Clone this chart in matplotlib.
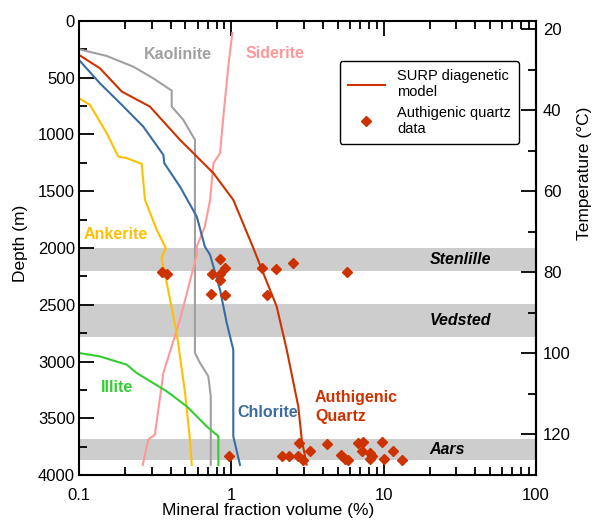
import matplotlib
matplotlib.use('agg')
import matplotlib.pyplot as plt
from matplotlib.lines import Line2D

plt.rcParams['font.family'] = ['Liberation Sans', 'DejaVu Sans']

# --- data (x = mineral fraction %, depth in m) ---
kaolinite_x = [0.1, 0.152, 0.227, 0.307, 0.406, 0.406, 0.484, 0.577, 0.577, 0.623, 0.706, 0.733, 0.733]
kaolinite_d = [249, 308, 402, 505, 613, 754, 871, 1047, 2925, 3013, 3131, 3307, 3908]

siderite_x = [1.015, 0.955, 0.886, 0.843, 0.763, 0.725, 0.67, 0.593, 0.593, 0.46, 0.358, 0.315, 0.285, 0.262]
siderite_d = [106, 402, 842, 1165, 1253, 1576, 1811, 1987, 2060, 2632, 3101, 3644, 3688, 3911]

surp_x = [0.1, 0.137, 0.191, 0.292, 0.46, 0.593, 0.763, 1.03, 1.395, 1.62, 1.984, 2.31, 2.75, 2.9, 3.12]
surp_d = [299, 416, 622, 754, 1047, 1194, 1341, 1576, 2001, 2221, 2515, 2896, 3395, 3688, 3908]

chlorite_x = [0.1, 0.137, 0.191, 0.264, 0.358, 0.363, 0.46, 0.593, 0.67, 0.725, 0.843, 0.933, 1.03, 1.03, 1.14]
chlorite_d = [343, 548, 739, 930, 1180, 1253, 1459, 1723, 1987, 2060, 2368, 2661, 2896, 3659, 3911]

ankerite_x = [0.1, 0.118, 0.152, 0.181, 0.206, 0.258, 0.271, 0.324, 0.371, 0.348, 0.377, 0.438, 0.497, 0.535, 0.55]
ankerite_d = [680, 739, 989, 1194, 1209, 1259, 1576, 1840, 2001, 2089, 2309, 2750, 3277, 3688, 3911]

illite_x = [0.1, 0.137, 0.206, 0.239, 0.377, 0.51, 0.688, 0.822, 0.822]
illite_d = [2925, 2955, 3028, 3101, 3263, 3395, 3571, 3659, 3911]

quartz_x = [0.352, 0.377, 0.843, 0.752, 0.843, 0.909, 0.843, 0.733, 0.909, 1.58, 1.97, 2.55, 1.71, 5.72,
            0.97, 2.14, 2.38, 2.78, 2.75, 2.94, 3.29, 4.23, 5.25, 5.58, 5.86, 6.82, 7.28, 7.17, 8.15,
            8.15, 8.39, 9.8, 10.0, 11.6, 13.1]
quartz_d = [2210, 2225, 2095, 2225, 2225, 2175, 2280, 2405, 2410, 2175, 2185, 2135, 2410, 2210,
            3830, 3830, 3830, 3720, 3830, 3865, 3785, 3725, 3820, 3855, 3865, 3715, 3710, 3785, 3810,
            3860, 3835, 3710, 3860, 3785, 3865]

formations = ['Stenlille', 'Vedsted', 'Aars']
band_top = [2000, 2490, 3680]
band_base = [2200, 2780, 3865]

red = '#cc3300'

fig = plt.figure(figsize=(5.97, 5.24), dpi=100)
ax = fig.add_axes([79/597, 1-475/524, 457/597, 454/524])

for top, base, name in zip(band_top, band_base, formations):
    ax.axhspan(top, base, color='#cdcdcd', lw=0, zorder=0)
    ax.text(20, (top+base)/2, name, fontsize=11.5, fontweight='bold', style='italic',
            va='center', ha='left', zorder=3)

lw = 1.5
ax.plot(kaolinite_x, kaolinite_d, color='#a0a0a0', lw=lw, zorder=2)
ax.plot(siderite_x, siderite_d, color='#ff9999', lw=lw, zorder=2)
ax.plot(ankerite_x, ankerite_d, color='#ffc000', lw=lw, zorder=2)
ax.plot(illite_x, illite_d, color='#33cc33', lw=lw, zorder=2)
ax.plot(chlorite_x, chlorite_d, color='#3a6ca4', lw=lw, zorder=2)
ax.plot(surp_x, surp_d, color=red, lw=lw, zorder=2)
ax.plot(quartz_x, quartz_d, ls='none', marker='D', ms=5, color=red, zorder=4)

lab = dict(fontsize=11.5, fontweight='bold', va='center', ha='left')
ax.text(0.267, 293, 'Kaolinite', color='#a0a0a0', **lab)
ax.text(1.243, 290, 'Siderite', color='#ff9999', **lab)
ax.text(0.108, 1878, 'Ankerite', color='#ffc000', **lab)
ax.text(0.139, 3228, 'Illite', color='#33cc33', **lab)
ax.text(1.095, 3448, 'Chlorite', color='#3a6ca4', **lab)
ax.text(3.54, 3404, 'Authigenic\nQuartz', color=red, linespacing=1.35, **lab)

ax.set_xscale('log')
ax.set_xlim(0.1, 100)
ax.set_ylim(4000, 0)
ax.set_xticks([0.1, 1, 10, 100])
ax.set_xticklabels(['0.1', '1', '10', '100'])
ax.set_yticks(range(0, 4001, 500))
ax.set_yticks(range(250, 4000, 500), minor=True)

for s in ax.spines.values():
    s.set_linewidth(1.5)
ax.tick_params(which='both', direction='in', width=1.3, top=True, right=False, labelsize=12)
ax.tick_params(which='major', length=11)
ax.tick_params(which='minor', length=6)
ax.tick_params(axis='x', pad=9)
ax.tick_params(axis='y', pad=3)

ax.set_xlabel('Mineral fraction volume (%)', fontsize=12.5)
ax.set_ylabel('Depth (m)', fontsize=12.5)
ax.xaxis.set_label_coords(268/597, 1-503/524, transform=fig.transFigure)
ax.yaxis.set_label_coords(28/597, 1-243/524, transform=fig.transFigure)

sec = ax.secondary_yaxis('right', functions=(lambda d: 18 + 0.028*d, lambda t: (t - 18)/0.028))
sec.set_yticks(range(20, 121, 20))
sec.set_yticks(range(30, 131, 20), minor=True)
sec.spines['right'].set_linewidth(1.5)
sec.tick_params(which='both', direction='in', width=1.3, labelsize=12, pad=5)
sec.tick_params(which='major', length=11)
sec.tick_params(which='minor', length=6)
sec.set_ylabel('Temperature (°C)', fontsize=12.5)
sec.yaxis.set_label_coords(577/597, 1-173/524, transform=fig.transFigure)

handles = [Line2D([], [], color=red, lw=lw),
           Line2D([], [], ls='none', marker='D', ms=5, color=red)]
leg = ax.legend(handles, ['SURP diagenetic\nmodel', 'Authigenic quartz\ndata'],
                loc='upper right', bbox_to_anchor=((519-79)/457, (475-61)/454),
                borderaxespad=0, fontsize=10.5, fancybox=True, framealpha=1,
                edgecolor='black', handlelength=2.6, labelspacing=0.45, borderpad=0.55)
leg.get_frame().set_linewidth(1.0)
leg.set_zorder(5)

fig.savefig('out.png', dpi=100)
